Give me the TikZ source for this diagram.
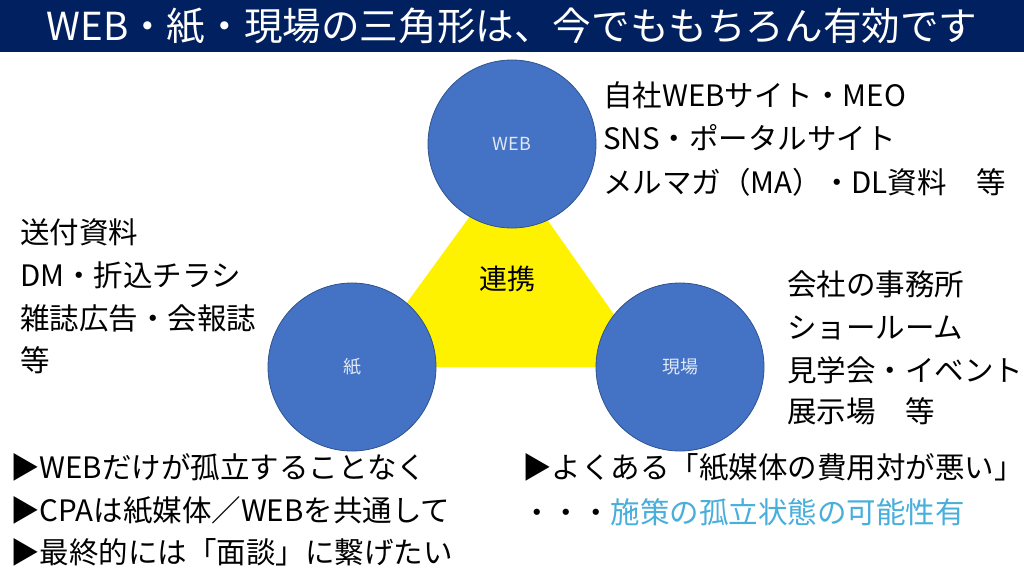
\documentclass[tikz,border=0pt]{standalone}
\usepackage{fontspec}
\setmainfont{Noto Sans CJK JP}
\definecolor{titlebg}{RGB}{0,32,96}
\definecolor{circfill}{RGB}{68,114,196}
\definecolor{circline}{RGB}{47,82,143}
\definecolor{circtext}{RGB}{225,232,245}
\definecolor{hilite}{RGB}{72,174,220}
\tikzset{
  circ/.style={circle,fill=circfill,draw=circline,line width=0.8pt,minimum size=168pt,inner sep=0pt,text=circtext,font=\fontsize{18pt}{20pt}\selectfont},
  body/.style={anchor=base west,inner sep=0pt,font=\fontsize{29.5pt}{34pt}\selectfont,text=black},
  titletext/.style={anchor=base,inner sep=0pt,text=white,font=\fontsize{38.6pt}{42pt}\selectfont},
}
\begin{document}
\begin{tikzpicture}[x=1pt,y=-1pt]
\useasboundingbox (0,0) rectangle (1024,576);
\fill[white] (0,0) rectangle (1024,576);
\fill[titlebg] (0,0) rectangle (1024,52);
\node[titletext] (title) at (512,40.5) {WEB・紙・現場の三角形は、今でももちろん有効です};
% triangle
\coordinate (tA) at (508,164);
\coordinate (tB) at (360,367);
\coordinate (tC) at (651,367);
\fill[yellow] (tA) -- (tB) -- (tC) -- cycle;
\node[anchor=base,inner sep=0pt,font=\fontsize{28pt}{32pt}\selectfont] (renkei) at (507,289) {連携};
% circles
\node[circ] (web) at (512,144) {WEB};
\node[circ] (kami) at (352,367) {紙};
\node[circ] (genba) at (680,367) {現場};
% WEB texts
\node[body] (w1) at (603,106) {自社WEBサイト・MEO};
\node[body] (w2) at (603,149) {SNS・ポータルサイト};
\node[body] (w3) at (603,193) {メルマガ（MA）・DL資料　等};
% paper texts
\node[body] (p1) at (20,243) {送付資料};
\node[body] (p2) at (20,286) {DM・折込チラシ};
\node[body] (p3) at (20,329) {雑誌広告・会報誌};
\node[body] (p4) at (20,371) {等};
% site texts
\node[body] (g1) at (787,295) {会社の事務所};
\node[body] (g2) at (787,338) {ショールーム};
\node[body] (g3) at (787,381) {見学会・イベント};
\node[body] (g4) at (787,422) {展示場　等};
% bottom left
\node[body] (b1) at (10,478) {▶WEBだけが孤立することなく};
\node[body] (b2) at (10,521) {▶CPAは紙媒体／WEBを共通して};
\node[body] (b3) at (10,563) {▶最終的には「面談」に繋げたい};
% bottom right
\node[body] (r1) at (522,478) {▶よくある「紙媒体の費用対が悪い」};
\node[body] (r2) at (522,523) {・・・\textcolor{hilite}{施策の孤立状態の可能性有}};
\end{tikzpicture}
\end{document}
